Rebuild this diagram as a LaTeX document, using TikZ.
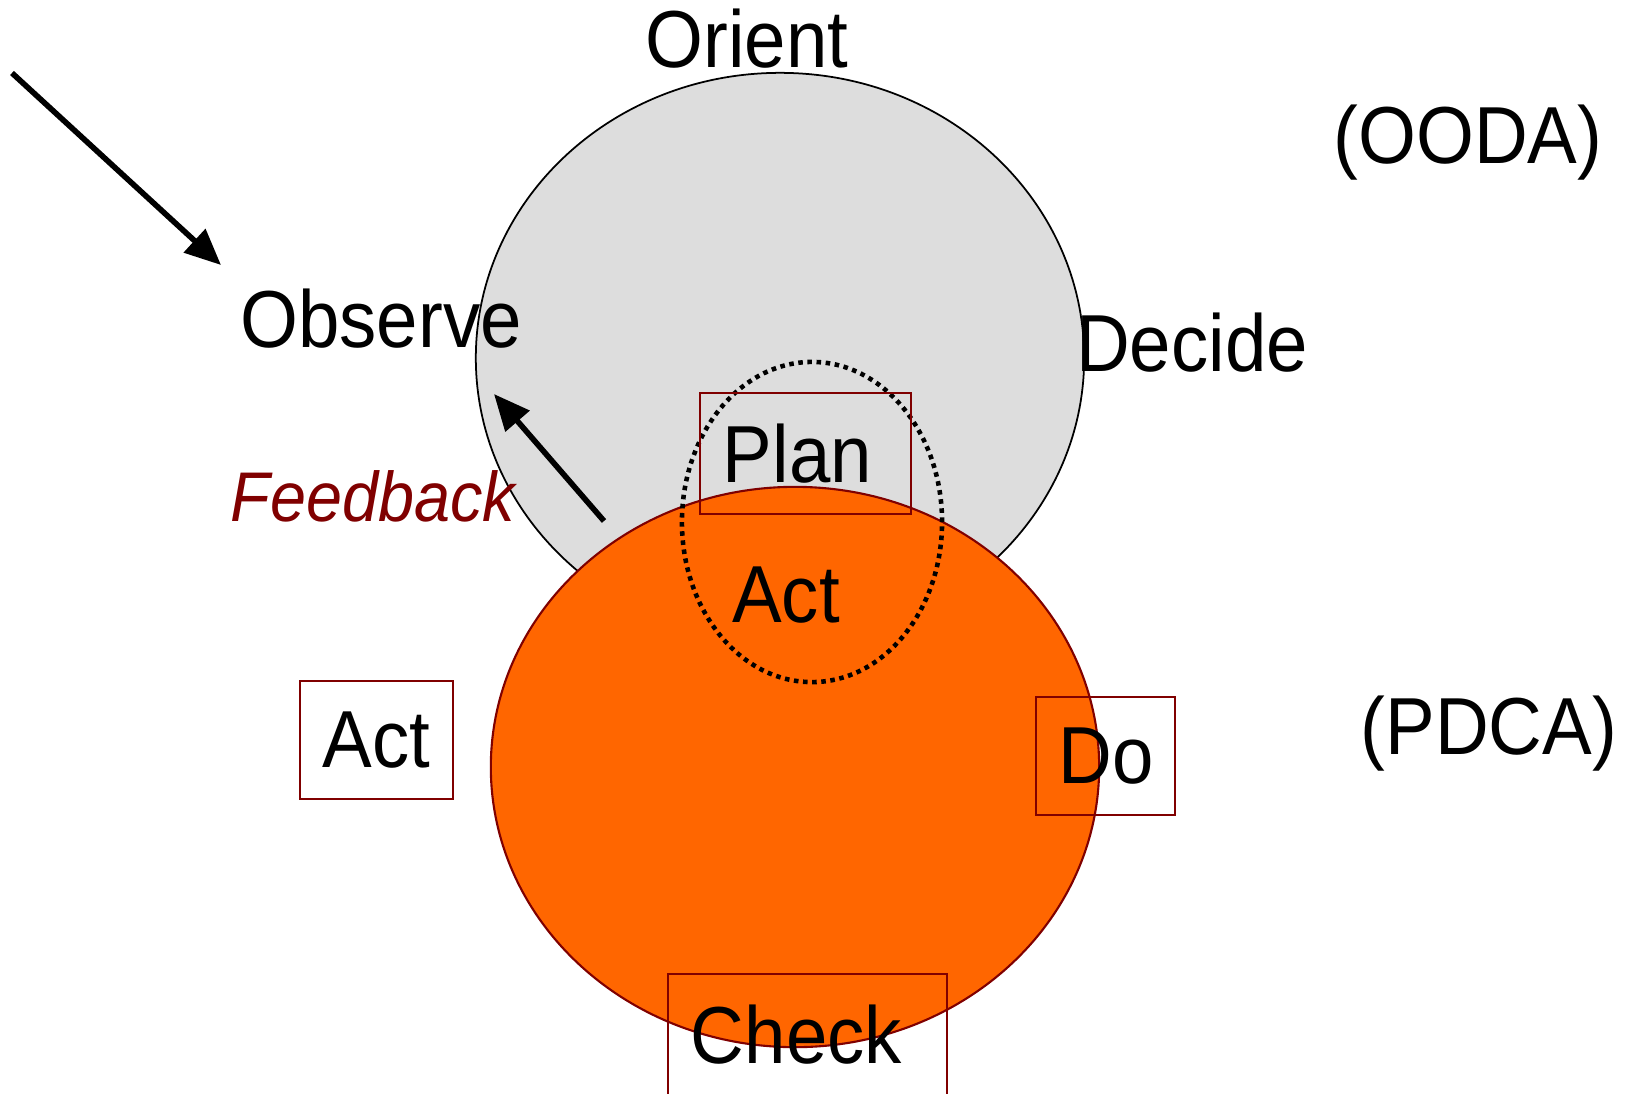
\documentclass[tikz,border=0pt]{standalone}
\usepackage{fontspec}
\setmainfont[FakeStretch=0.92]{Liberation Sans}
\usetikzlibrary{arrows.meta}
\definecolor{boxred}{RGB}{128,0,0}
\definecolor{pdcaorange}{RGB}{255,102,0}
\definecolor{oodagray}{RGB}{221,221,221}

\begin{document}
\begin{tikzpicture}[x=0.01cm,y=-0.01cm,
        bigtext/.style={font=\fontsize{23}{28}\selectfont, inner sep=0pt, anchor=base},
        pdcabox/.style={draw=boxred, line width=0.6pt, font=\fontsize{23}{28}\selectfont,
            inner xsep=2.3mm, inner ysep=0pt, align=left},
        flowarrow/.style={line width=1.6pt, -{Triangle[length=3.6mm,width=3.1mm]}}]
        \useasboundingbox (0,0) rectangle (1626,1093);
        % Draw OODA loop (gray) and PDCA loop (orange)
        \draw[fill=oodagray, line width=0.5pt] (780,358) ellipse [x radius=3.04cm, y radius=2.85cm];
        \draw[fill=pdcaorange, draw=boxred, line width=0.6pt] (795,767) ellipse [x radius=3.04cm, y radius=2.8cm];
        % Draw dotted overlap
        \draw[line width=1.3pt, dash pattern=on 1.3pt off 1.3pt] (812,522) ellipse [x radius=1.3cm, y radius=1.6cm];
        % Draw OODA labels
        \node[bigtext] (orient) at (747,67) {Orient};
        \node[bigtext] (observe) at (381,347) {Observe};
        \node[bigtext] (decide) at (1192,371) {Decide};
        \node[bigtext] (act) at (786,622) {Act};
        \node[bigtext] (ooda) at (1468,163) {(OODA)};
        \node[bigtext] (pdca) at (1489,754) {(PDCA)};
        % Draw PDCA boxes
        \node[pdcabox, text width=16.5mm, minimum height=12.1mm] (plan) at (805.5,453.5) {Plan};
        \node[pdcabox, text width=10.7mm, minimum height=11.8mm] (pdcaact) at (376.5,740) {Act};
        \node[pdcabox, text width=9.3mm, minimum height=11.8mm] (do) at (1105.5,756) {Do};
        \node[pdcabox, text width=23.3mm, minimum height=12.1mm] (check) at (807.5,1034.5) {Check};
        % Draw arrows
        \coordinate (inflow) at (12,73);
        \coordinate (obsin) at (221,265);
        \draw[flowarrow] (inflow) -- (obsin);
        \coordinate (fbtail) at (604,521);
        \coordinate (fbhead) at (494,394);
        \draw[flowarrow] (fbtail) -- (fbhead);
        \node[font=\fontsize{20}{24}\selectfont\itshape, text=boxred, inner sep=0pt, anchor=base] (feedback) at (373,521) {Feedback};
    \end{tikzpicture}
\end{document}
